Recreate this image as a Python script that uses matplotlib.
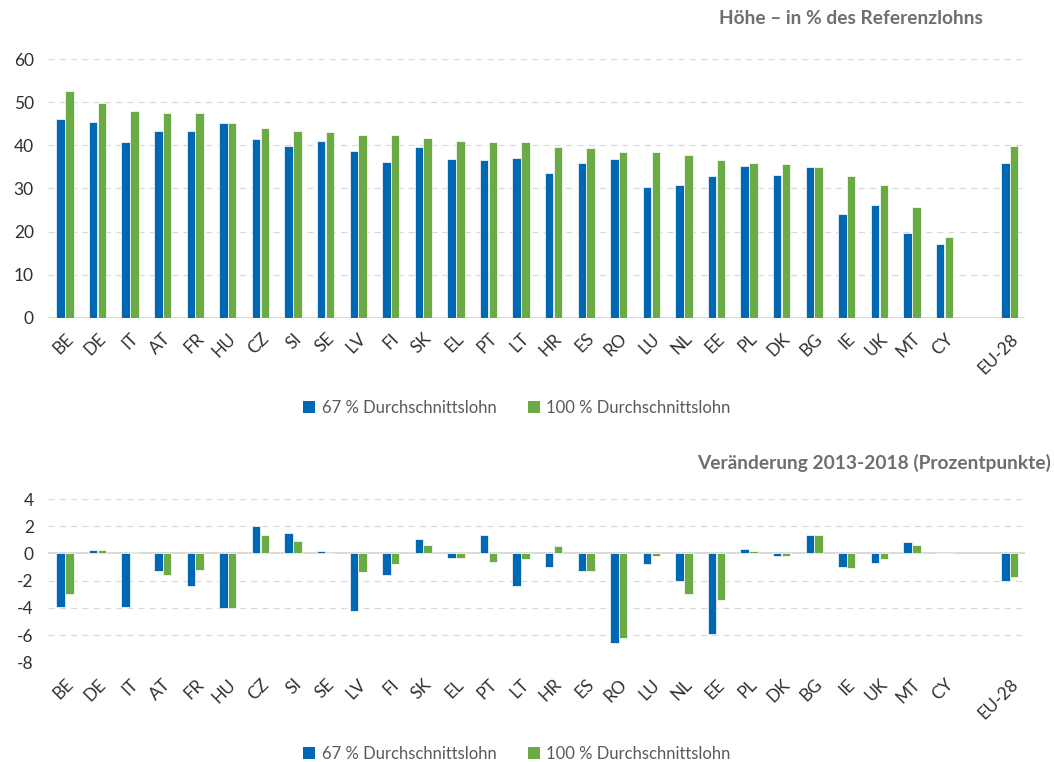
import matplotlib
matplotlib.use("Agg")
import matplotlib.pyplot as plt
from matplotlib.patches import Patch
import numpy as np

plt.rcParams['font.family'] = ['Lato', 'DejaVu Sans']

countries = ["BE", "DE", "IT", "AT", "FR", "HU", "CZ", "SI", "SE", "LV", "FI", "SK", "EL", "PT",
             "LT", "HR", "ES", "RO", "LU", "NL", "EE", "PL", "DK", "BG", "IE", "UK", "MT", "CY", "", "EU-28"]

level_67 = [46.0, 45.4, 40.8, 43.3, 43.3, 45.1, 41.5, 39.9, 41.1, 38.7, 36.2, 39.6, 36.8, 36.5,
            37.1, 33.7, 35.9, 36.8, 30.4, 30.7, 32.8, 35.3, 33.1, 35.0, 24.2, 26.1, 19.8, 17.2, np.nan, 35.9]
level_100 = [52.7, 49.7, 47.9, 47.6, 47.6, 45.1, 43.9, 43.3, 43.0, 42.4, 42.4, 41.8, 41.1, 40.8,
             40.8, 39.6, 39.3, 38.4, 38.4, 37.7, 36.5, 35.9, 35.6, 35.0, 32.8, 30.9, 25.8, 18.7, np.nan, 39.9]

change_67 = [-3.9, 0.27, -3.9, -1.3, -2.4, -4.0, 2.0, 1.5, 0.17, -4.2, -1.6, 1.03, -0.32, 1.32,
             -2.4, -1.0, -1.3, -6.6, -0.8, -2.0, -5.95, 0.34, -0.17, 1.32, -1.0, -0.7, 0.83, 0.0, np.nan, -2.0]
change_100 = [-2.95, 0.27, 0.1, -1.6, -1.2, -4.0, 1.32, 0.93, 0.05, -1.4, -0.8, 0.64, -0.32, -0.6,
              -0.42, 0.54, -1.3, -6.25, -0.17, -2.95, -3.45, 0.17, -0.17, 1.32, -1.1, -0.42, 0.64, 0.0, np.nan, -1.7]

legend_labels = ["67 % Durchschnittslohn", "100 % Durchschnittslohn"]
title_top = "Höhe – in % des Referenzlohns"
title_bottom = "Veränderung 2013-2018 (Prozentpunkte)"
yticks_top = [0, 10, 20, 30, 40, 50, 60]
yticks_bottom = [-8, -6, -4, -2, 0, 2, 4]

BLUE = "#0068b2"
GREEN = "#6aab45"
GRID = "#d9d9d9"
TICK_COLOR = "#303030"
GREY_TEXT = "#6e6e6e"

W, H = 1054, 762
fig = plt.figure(figsize=(W / 100, H / 100), dpi=100)

x = np.arange(len(countries))
bw = 0.26
off = 0.135

def px_axes(left, right, top, bottom):
    return fig.add_axes([left / W, 1 - bottom / H, (right - left) / W, (bottom - top) / H])

def style(ax, yticks, ylim):
    ax.set_xlim(-0.53, len(countries) - 0.53)
    ax.set_ylim(*ylim)
    ax.set_yticks(yticks)
    ax.set_yticklabels([str(v) for v in yticks], fontsize=12.5, color=TICK_COLOR)
    for s in ax.spines.values():
        s.set_visible(False)
    ax.tick_params(axis='y', length=0, pad=10)
    ax.tick_params(axis='x', length=0)
    ax.set_xticks(x)
    ax.set_xticklabels(countries, rotation=45, ha='right', va='top', rotation_mode='anchor',
                       fontsize=12.5, color=TICK_COLOR)
    for v in yticks:
        if v != 0:
            ax.axhline(v, color=GRID, lw=0.9, ls=(0, (5, 4)), zorder=0)
    ax.axhline(0, color=GRID, lw=1.4, zorder=1)

# Top chart
ax1 = px_axes(47.7, 1025, 59, 318)
ax1.bar(x - off, level_67, width=bw, color=BLUE, edgecolor='white', linewidth=0.5, zorder=2)
ax1.bar(x + off, level_100, width=bw, color=GREEN, edgecolor='white', linewidth=0.5, zorder=2)
style(ax1, yticks_top, (0, 60))
ax1.tick_params(axis='x', pad=9)
fig.text(983 / W, 1 - 19 / H, title_top, ha='right', va='center', fontsize=13.8,
         fontweight='bold', color=GREY_TEXT)

# Bottom chart
ax2 = px_axes(47.7, 1025, 499, 662.3)
ax2.bar(x - off, change_67, width=bw, color=BLUE, edgecolor='white', linewidth=0.5, zorder=2)
ax2.bar(x + off, change_100, width=bw, color=GREEN, edgecolor='white', linewidth=0.5, zorder=2)
style(ax2, yticks_bottom, (-8, 4))
ax2.tick_params(axis='x', pad=10)
fig.text(1051 / W, 1 - 463 / H, title_bottom, ha='right', va='center', fontsize=13.8,
         fontweight='bold', color=GREY_TEXT)

handles = [Patch(facecolor=BLUE, edgecolor='none'), Patch(facecolor=GREEN, edgecolor='none')]
for ycen in (408, 754):
    fig.legend(handles, legend_labels, loc='center', bbox_to_anchor=(517 / W, 1 - ycen / H),
               ncol=2, frameon=False, fontsize=12, handlelength=0.7, handleheight=0.7,
               handletextpad=0.4, columnspacing=1.9, labelcolor='#595959')

fig.savefig("out.png", dpi=100)
